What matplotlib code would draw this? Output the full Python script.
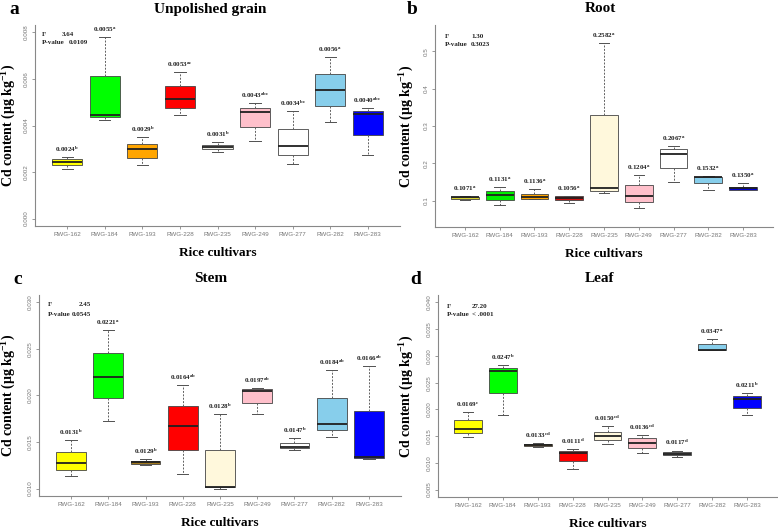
import matplotlib
matplotlib.use("Agg")
import matplotlib.pyplot as plt

plt.rcParams["mathtext.fontset"] = "custom"
plt.rcParams["mathtext.rm"] = "Liberation Serif:bold"
plt.rcParams["mathtext.it"] = "Liberation Serif:bold"
plt.rcParams["mathtext.bf"] = "Liberation Serif:bold"

W, H = 778, 530
SERIF = "Liberation Serif"
SANS = "Liberation Sans"

cultivars = ["RWG-162", "RWG-184", "RWG-193", "RWG-228", "RWG-235",
             "RWG-249", "RWG-277", "RWG-282", "RWG-283"]

# ---- a: unpolished grain
grain_lo = [0.00214, 0.00424, 0.00229, 0.00443, 0.00285, 0.00332, 0.00234, 0.00417, 0.00272]
grain_q1 = [0.00229, 0.00435, 0.00261, 0.00477, 0.00297, 0.00393, 0.00272, 0.00484, 0.00360]
grain_med = [0.00243, 0.00446, 0.00297, 0.00514, 0.00308, 0.00457, 0.00311, 0.00552, 0.00448]
grain_q3 = [0.00254, 0.00613, 0.00322, 0.00570, 0.00318, 0.00477, 0.00387, 0.00623, 0.00463]
grain_hi = [0.00264, 0.00779, 0.00350, 0.00630, 0.00329, 0.00498, 0.00464, 0.00694, 0.00474]
grain_mean = ["0.0024", "0.0055", "0.0029", "0.0053", "0.0031", "0.0043", "0.0034", "0.0056", "0.0040"]
grain_let = ["b", "a", "b", "ac", "b", "abc", "bc", "a", "abc"]
grain_col = ["#FFFF00", "#00FF00", "#FFA500", "#FF0000", "#F2F2EA",
             "#FFC0CB", "#FFFFFF", "#87CEEB", "#0000FF"]

# ---- b: root
root_lo = [0.1020, 0.0885, 0.1045, 0.0947, 0.121, 0.0805, 0.149, 0.129, 0.1285]
root_q1 = [0.1060, 0.1020, 0.1045, 0.1035, 0.1267, 0.0973, 0.187, 0.147, 0.1285]
root_med = [0.1090, 0.1150, 0.1090, 0.1080, 0.134, 0.1130, 0.226, 0.164, 0.1340]
root_q3 = [0.1115, 0.1267, 0.1195, 0.1125, 0.329, 0.1420, 0.238, 0.165, 0.1380]
root_hi = [0.1125, 0.1370, 0.1310, 0.1130, 0.522, 0.1685, 0.2467, 0.166, 0.1470]
root_mean = ["0.1071", "0.1131", "0.1136", "0.1056", "0.2582", "0.1204", "0.2067", "0.1532", "0.1350"]
root_let = ["a"] * 9
root_col = ["#D6D230", "#00EE00", "#FFA500", "#D01010", "#FFF8DC",
            "#FFC0CB", "#FFFFFF", "#87CEEB", "#0000CD"]

# ---- c: stem
stem_lo = [0.01137, 0.01731, 0.01255, 0.01158, 0.01000, 0.01796, 0.01419, 0.01559, 0.01319]
stem_q1 = [0.01201, 0.01971, 0.01266, 0.01409, 0.01014, 0.01922, 0.01433, 0.01624, 0.01330]
stem_med = [0.01272, 0.02204, 0.01283, 0.01667, 0.01022, 0.02043, 0.01444, 0.01696, 0.01337]
stem_q3 = [0.01398, 0.02455, 0.01301, 0.01885, 0.01416, 0.02065, 0.01491, 0.01975, 0.01831]
stem_hi = [0.01524, 0.02700, 0.01319, 0.02115, 0.01803, 0.02083, 0.01541, 0.02269, 0.02315]
stem_mean = ["0.0131", "0.0221", "0.0129", "0.0164", "0.0128", "0.0197", "0.0147", "0.0184", "0.0166"]
stem_let = ["b", "a", "b", "ab", "b", "ab", "b", "ab", "ab"]
stem_col = ["#FFFF00", "#00FF00", "#A0781E", "#FF0000", "#FFF8DC",
            "#FFC0CB", "#FFFFFF", "#87CEEB", "#0000FF"]

# ---- d: leaf
leaf_lo = [0.01479, 0.01891, 0.01292, 0.00875, 0.01354, 0.01185, 0.01105, 0.03103, 0.01886]
leaf_q1 = [0.01549, 0.02298, 0.01311, 0.01030, 0.01418, 0.01279, 0.01142, 0.03103, 0.02028]
leaf_med = [0.01624, 0.02715, 0.01335, 0.01185, 0.01498, 0.01373, 0.01167, 0.03115, 0.02185]
leaf_q3 = [0.01792, 0.02766, 0.01354, 0.01217, 0.01579, 0.01455, 0.01199, 0.03215, 0.02247]
leaf_hi = [0.01953, 0.02822, 0.01373, 0.01260, 0.01685, 0.01517, 0.01230, 0.03309, 0.02298]
leaf_mean = ["0.0169", "0.0247", "0.0133", "0.0111", "0.0150", "0.0136", "0.0117", "0.0347", "0.0211"]
leaf_let = ["c", "b", "cd", "d", "cd", "cd", "d", "a", "b"]
leaf_col = ["#FFFF00", "#00FF00", "#C08A30", "#FF0000", "#FFF8DC",
            "#FFC0CB", "#A0A0A0", "#87CEEB", "#0000FF"]

fig = plt.figure(figsize=(W / 100, H / 100), dpi=100)


def box_px(l, t, r, b):
    return [l / W, 1 - b / H, (r - l) / W, (b - t) / H]


def ftext(x, y, s, **kw):
    fig.text(x / W, 1 - y / H, s, **kw)


panels = [
    dict(rect=(35, 25, 400, 226), lo=grain_lo, q1=grain_q1, med=grain_med, q3=grain_q3,
         hi=grain_hi, mean=grain_mean, let=grain_let, col=grain_col,
         ylim=(0, 0.008), ticks=[0, 0.002, 0.004, 0.006, 0.008], fmt="{:.3f}",
         title="Unpolished grain", letter="a", fstat=("3.64", "0.0109"),
         txt=(42, 34, 62, 69), title_x=210),
    dict(rect=(435, 25, 773, 227), lo=root_lo, q1=root_q1, med=root_med, q3=root_q3,
         hi=root_hi, mean=root_mean, let=root_let, col=root_col,
         ylim=(0.05, 0.55), ticks=[0.1, 0.2, 0.3, 0.4, 0.5], fmt="{:.1f}",
         title="Root", letter="b", fstat=("1.30", "0.3023"),
         txt=(445, 36, 471, 471), title_x=600),
    dict(rect=(39, 295, 401, 496), lo=stem_lo, q1=stem_q1, med=stem_med, q3=stem_q3,
         hi=stem_hi, mean=stem_mean, let=stem_let, col=stem_col,
         ylim=(0.010, 0.030), ticks=[0.010, 0.015, 0.020, 0.025, 0.030], fmt="{:.3f}",
         title="Stem", letter="c", fstat=("2.45", "0.0545"),
         txt=(48, 305, 79, 72), title_x=211),
    dict(rect=(438, 295, 777, 497), lo=leaf_lo, q1=leaf_q1, med=leaf_med, q3=leaf_q3,
         hi=leaf_hi, mean=leaf_mean, let=leaf_let, col=leaf_col,
         ylim=(0.005, 0.040), ticks=[0.005, 0.010, 0.015, 0.020, 0.025, 0.030, 0.035, 0.040],
         fmt="{:.3f}", title="Leaf", letter="d", fstat=("27.20", "< .0001"),
         txt=(447, 306, 472, 472), title_x=600),
]

for p in panels:
    l, t, r, b = p["rect"]
    ax = fig.add_axes(box_px(l, t, r, b))
    stats = []
    for i in range(len(cultivars)):
        stats.append(dict(whislo=p["lo"][i], q1=p["q1"][i], med=p["med"][i],
                          q3=p["q3"][i], whishi=p["hi"][i], fliers=[], label=cultivars[i]))
    pos = list(range(1, len(cultivars) + 1))
    bp = ax.bxp(stats, positions=pos, widths=0.8, patch_artist=True, showfliers=False,
                capwidths=0.3,
                boxprops=dict(edgecolor="#444444", linewidth=0.6),
                medianprops=dict(color="#202020", linewidth=1.3),
                whiskerprops=dict(color="#606060", linewidth=0.7, linestyle=(0, (2, 1.5))),
                capprops=dict(color="#505050", linewidth=0.7))
    for patch, c in zip(bp["boxes"], p["col"]):
        patch.set_facecolor(c)

    for i in range(len(cultivars)):
        ax.annotate(f"{p['mean'][i]}$^{{{p['let'][i]}}}$", (pos[i], p["hi"][i]),
                    xytext=(0, 2.2), textcoords="offset points", ha="center", va="bottom",
                    fontsize=5, fontweight="bold", family=SERIF, color="#222222")

    y0, y1 = p["ylim"]
    ext = (y1 - y0) * 0.04
    ax.set_ylim(y0 - ext, y1 + ext)
    ax.set_xlim(0.14, 9.86)
    ax.set_yticks(p["ticks"])
    ax.set_yticklabels([p["fmt"].format(v) for v in p["ticks"]], rotation=90, va="center",
                       fontsize=4.5, color="#777777", family=SANS)
    ax.set_xticks(pos)
    ax.set_xticklabels(cultivars, fontsize=4.5, color="#777777", family=SANS)
    ax.tick_params(axis="both", length=2.5, width=0.6, color="#888888", pad=2)
    for s in ["top", "right"]:
        ax.spines[s].set_visible(False)
    for s in ["left", "bottom"]:
        ax.spines[s].set_color("#888888")
        ax.spines[s].set_linewidth(0.8)

    # F and P-value
    tx, ty, vx1, vx2 = p["txt"]
    kw = dict(fontsize=5, fontweight="bold", family=SERIF, va="center", color="#222222")
    ftext(tx, ty, "F", **kw)
    ftext(tx, ty + 9, "P-value", **kw)
    ftext(vx1, ty, p["fstat"][0], **kw)
    ftext(vx2, ty + 9, p["fstat"][1], **kw)

    # titles and labels
    ftext(p["title_x"], t - 16, p["title"], fontsize=11, fontweight="bold", family=SERIF,
          ha="center", va="center")
    ftext(l - 26 if l < 100 else l - 28, t - 16, p["letter"], fontsize=14, fontweight="bold",
          family=SERIF, ha="left", va="center")
    ftext((l + r) / 2, b + 27, "Rice cultivars", fontsize=9.5, fontweight="bold", family=SERIF,
          ha="center", va="center")
    ftext(9 if l < 100 else 407, (t + b) / 2, "Cd content (μg kg$^{-1}$)", fontsize=10,
          fontweight="bold", family=SERIF, rotation=90, ha="center", va="center")

fig.savefig("out.png", dpi=100)
